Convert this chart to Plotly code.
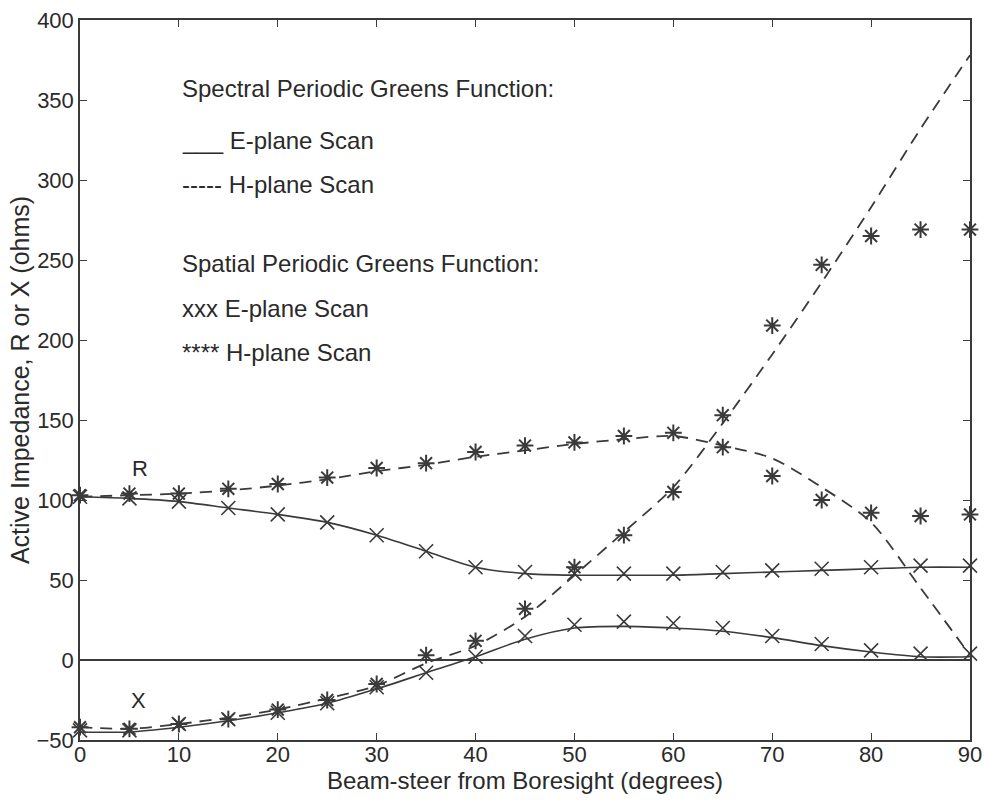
import plotly.graph_objects as go

# Beam-steer angles (degrees)
angles = [0, 5, 10, 15, 20, 25, 30, 35, 40, 45, 50, 55, 60, 65, 70, 75, 80, 85, 90]

# Spectral periodic Greens function (curves)
spec_E_R = [102, 101, 99, 95, 91, 86, 78, 68, 58, 54, 53, 53, 53, 54, 55, 56, 57, 58, 58]
spec_E_X = [-45, -45, -42, -38, -33, -27, -18, -8, 2, 13, 20, 21, 20, 18, 14, 9, 5, 2, 2]
spec_H_R = [102, 103, 104, 106, 109, 113, 118, 122, 127, 131, 135, 138, 140, 134, 126, 108, 86, 45, 3]
spec_H_X = [-42, -43, -40, -36, -31, -24, -16, -2, 9, 27, 53, 80, 108, 148, 191, 236, 283, 332, 378]

# Spatial periodic Greens function (markers)
spat_E_R = [102, 101, 99, 95, 91, 86, 78, 68, 58, 55, 54, 54, 54, 55, 56, 57, 58, 59, 59]
spat_E_X = [-44, -44, -40, -37, -33, -27, -17, -8, 2, 15, 22, 24, 23, 20, 15, 10, 6, 4, 4]
spat_H_R = [103, 104, 104, 107, 110, 114, 120, 123, 130, 134, 136, 140, 142, 133, 115, 100, 92, 90, 91]
spat_H_X = [-42, -43, -40, -37, -31, -25, -15, 3, 12, 32, 58, 78, 105, 153, 209, 247, 265, 269, 269]

legend_lines = [
    "Spectral Periodic Greens Function:",
    "___ E-plane Scan",
    "----- H-plane Scan",
    "Spatial Periodic Greens Function:",
    "xxx E-plane Scan",
    "**** H-plane Scan",
]
legend_y = [357, 325, 297, 248, 220, 192]

x_ticks = [0, 10, 20, 30, 40, 50, 60, 70, 80, 90]
y_ticks = [-50, 0, 50, 100, 150, 200, 250, 300, 350, 400]

LC = "#3a3a3a"
TC = "#2a2a2a"
FONT = "Liberation Sans, Arial, sans-serif"

fig = go.Figure()

for ys in (spec_E_R, spec_E_X):
    fig.add_trace(go.Scatter(x=angles, y=ys, mode="lines",
                             line=dict(color=LC, width=1.6, shape="spline", smoothing=0.8),
                             showlegend=False, hoverinfo="skip"))
for ys in (spec_H_R, spec_H_X):
    fig.add_trace(go.Scatter(x=angles, y=ys, mode="lines",
                             line=dict(color=LC, width=1.8, dash="12px,8px", shape="spline", smoothing=0.8),
                             showlegend=False, hoverinfo="skip"))
for ys in (spat_E_R, spat_E_X):
    fig.add_trace(go.Scatter(x=angles, y=ys, mode="markers",
                             marker=dict(symbol="x-thin-open", size=14,
                                         line=dict(color=LC, width=1.6), color=LC),
                             showlegend=False, cliponaxis=False))
for ys in (spat_H_R, spat_H_X):
    fig.add_trace(go.Scatter(x=angles, y=ys, mode="markers",
                             marker=dict(symbol="asterisk-open", size=14,
                                         line=dict(color=LC, width=2), color=LC),
                             showlegend=False, cliponaxis=False))

annotations = []
for txt, yv in zip(legend_lines, legend_y):
    annotations.append(dict(x=10.1, y=yv, xref="x", yref="y", text=txt, showarrow=False,
                            xanchor="left", yanchor="middle",
                            font=dict(family=FONT, size=24, color=TC)))
annotations.append(dict(x=6.1, y=120, xref="x", yref="y", text="R", showarrow=False,
                        font=dict(family=FONT, size=22, color=TC)))
annotations.append(dict(x=5.9, y=-25, xref="x", yref="y", text="X", showarrow=False,
                        font=dict(family=FONT, size=22, color=TC)))

axis_common = dict(showgrid=False, showline=True, linecolor=LC, linewidth=1.5,
                   mirror="ticks", ticks="inside", ticklen=7, tickwidth=1.2, tickcolor=LC,
                   automargin=False, ticklabeloverflow="allow",
                   tickfont=dict(family=FONT, size=22, color=TC))

fig.update_layout(
    width=985, height=803,
    margin=dict(l=80, r=15, t=20, b=63),
    paper_bgcolor="white", plot_bgcolor="white",
    xaxis=dict(range=[0, 90], tickvals=x_ticks, zeroline=False, ticklabelstandoff=-6,
               title=dict(text="Beam-steer from Boresight (degrees)", standoff=0,
                          font=dict(family=FONT, size=24, color=TC)),
               **axis_common),
    yaxis=dict(range=[-50, 400], tickvals=y_ticks,
               zeroline=True, zerolinecolor=LC, zerolinewidth=1.5,
               title=dict(text="Active Impedance, R or X (ohms)", standoff=0,
                          font=dict(family=FONT, size=25, color=TC)),
               **axis_common),
    annotations=annotations,
)

fig.write_html("out.html",
               config={"displayModeBar": False},
               post_script="document.body.style.margin='0';document.body.style.overflow='hidden';")
